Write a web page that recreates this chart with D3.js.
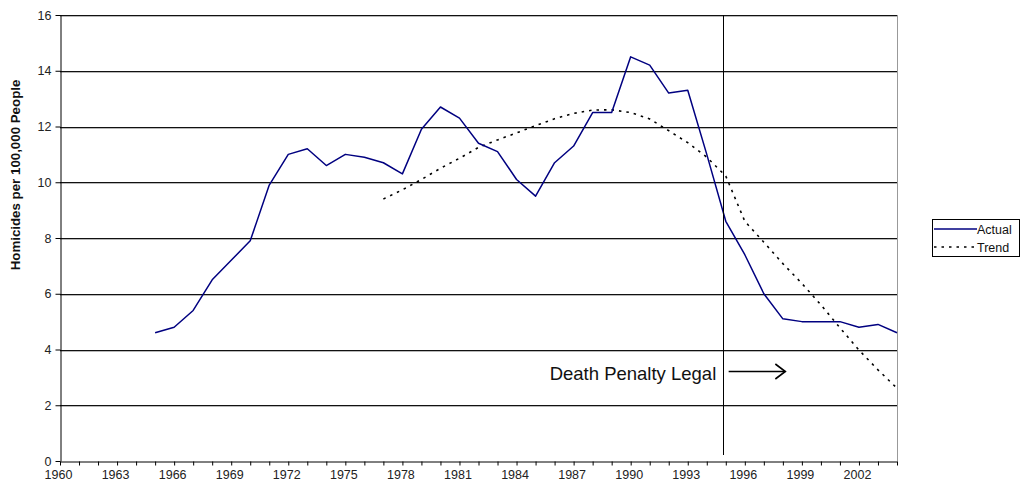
<!DOCTYPE html>
<html>
<head>
<meta charset="utf-8">
<script src="https://cdn.jsdelivr.net/npm/d3@7"></script>
<style>
  body { margin: 0; background: #fff; }
  svg { display: block; font-family: "Liberation Sans", Arial, sans-serif; }
</style>
</head>
<body>
<svg width="1029" height="485"></svg>
<script>
// Homicide rate per 100,000 people, by year
const actualYears = [1965, 1966, 1967, 1968, 1969, 1970, 1971, 1972, 1973, 1974,
  1975, 1976, 1977, 1978, 1979, 1980, 1981, 1982, 1983, 1984,
  1985, 1986, 1987, 1988, 1989, 1990, 1991, 1992, 1993, 1994,
  1995, 1996, 1997, 1998, 1999, 2000, 2001, 2002, 2003, 2004];
const actualValues = [4.6, 4.8, 5.4, 6.5, 7.2, 7.9, 9.9, 11.0, 11.2, 10.6,
  11.0, 10.9, 10.7, 10.3, 11.9, 12.7, 12.3, 11.4, 11.1, 10.1,
  9.5, 10.7, 11.3, 12.5, 12.5, 14.5, 14.2, 13.2, 13.3, 11.0,
  8.6, 7.4, 6.0, 5.1, 5.0, 5.0, 5.0, 4.8, 4.9, 4.6];

const trendYears = [1977, 1978, 1979, 1980, 1981, 1982, 1983, 1984, 1985, 1986,
  1987, 1988, 1989, 1990, 1991, 1992, 1993, 1994, 1995, 1996,
  1997, 1998, 1999, 2000, 2001, 2002, 2003, 2004];
const trendValues = [9.4, 9.73, 10.1, 10.5, 10.86, 11.25, 11.52, 11.77, 12.03, 12.28,
  12.47, 12.59, 12.6, 12.5, 12.27, 11.85, 11.42, 10.9, 10.22, 8.6,
  7.85, 7.08, 6.37, 5.6, 4.78, 3.98, 3.27, 2.61];

const yTicks = [0, 2, 4, 6, 8, 10, 12, 14, 16];
const xLabelYears = [1960, 1963, 1966, 1969, 1972, 1975, 1978, 1981, 1984,
  1987, 1990, 1993, 1996, 1999, 2002];

const deathPenaltyYear = 1994.87;
const annotationText = "Death Penalty Legal";
const yTitle = "Homicides per 100,000 People";
const seriesNames = ["Actual", "Trend"];

const svg = d3.select("svg");
const plotL = 60, plotR = 897, plotT = 15, plotB = 461;

const x = d3.scaleLinear().domain([1960, 2004]).range([plotL, plotR]);
const y = d3.scaleLinear().domain([0, 16]).range([plotB, plotT]);

// gridlines (dark line with a soft grey underneath)
const grid = svg.append("g");
yTicks.filter(v => v > 0).forEach(v => {
  const yy = Math.round(y(v)) + 0.5;
  grid.append("line")
    .attr("x1", plotL).attr("x2", plotR)
    .attr("y1", yy + 1).attr("y2", yy + 1)
    .attr("stroke", "#b8b8b8");
  grid.append("line")
    .attr("x1", plotL).attr("x2", plotR)
    .attr("y1", yy).attr("y2", yy)
    .attr("stroke", "#111");
});

// right frame edge
svg.append("line")
  .attr("x1", plotR + 0.5).attr("x2", plotR + 0.5)
  .attr("y1", plotT).attr("y2", plotB)
  .attr("stroke", "#999");

// y axis
const yAxis = svg.append("g")
  .attr("transform", `translate(${plotL + 0.5},0)`)
  .call(d3.axisLeft(y).tickValues(yTicks).tickSize(5).tickSizeOuter(0));
yAxis.select(".domain").attr("stroke", "#000");
yAxis.selectAll(".tick line").attr("stroke", "#000");
yAxis.selectAll("text")
  .attr("font-size", "12.5px")
  .attr("fill", "#222")
  .attr("font-family", "Liberation Sans, Arial, sans-serif")
  .attr("x", -9);

// x axis: a tick every year, label every third
const xAxis = svg.append("g")
  .attr("transform", `translate(0,${plotB + 0.5})`)
  .call(d3.axisBottom(x)
    .tickValues(d3.range(1960, 2005))
    .tickSize(4)
    .tickSizeOuter(0)
    .tickFormat(d => xLabelYears.includes(d) ? String(d) : ""));
xAxis.select(".domain").attr("stroke", "#000");
xAxis.selectAll(".tick line").attr("stroke", "#000");
xAxis.selectAll("text")
  .attr("font-size", "12.5px")
  .attr("fill", "#222")
  .attr("font-family", "Liberation Sans, Arial, sans-serif")
  .attr("dx", "-2px")
  .attr("y", 9);

// y title
svg.append("text")
  .attr("transform", "translate(19.5,175) rotate(-90)")
  .attr("text-anchor", "middle")
  .attr("font-size", "13.3px")
  .attr("font-weight", "bold")
  .attr("fill", "#111")
  .text(yTitle);

const line = d3.line().x(d => x(d[0])).y(d => y(d[1]));

// trend
svg.append("path")
  .datum(d3.zip(trendYears, trendValues))
  .attr("d", line)
  .attr("fill", "none")
  .attr("stroke", "#000")
  .attr("stroke-width", 1.6)
  .attr("stroke-dasharray", "2.5,5");

// actual
svg.append("path")
  .datum(d3.zip(actualYears, actualValues))
  .attr("d", line)
  .attr("fill", "none")
  .attr("stroke", "#000080")
  .attr("stroke-width", 1.5)
  .attr("stroke-linejoin", "round");

// death penalty marker
const xd = Math.round(x(deathPenaltyYear)) + 0.5;
svg.append("line")
  .attr("x1", xd).attr("x2", xd)
  .attr("y1", plotT).attr("y2", 455)
  .attr("stroke", "#000")
  .attr("stroke-width", 1);

svg.append("text")
  .attr("x", x(1994.5))
  .attr("y", y(2.9))
  .attr("text-anchor", "end")
  .attr("font-size", "18.5px")
  .attr("fill", "#111")
  .text(annotationText);

const ay = Math.round(y(3.23)) + 0.5;
const ax1 = x(1995.15), ax2 = x(1998.13);
svg.append("line")
  .attr("x1", ax1).attr("x2", ax2)
  .attr("y1", ay).attr("y2", ay)
  .attr("stroke", "#000").attr("stroke-width", 1.6);
svg.append("path")
  .attr("d", `M${ax2 - 10},${ay - 7.5}L${ax2},${ay}L${ax2 - 10},${ay + 7.5}`)
  .attr("fill", "none")
  .attr("stroke", "#000").attr("stroke-width", 1.6);

// legend
const lg = svg.append("g").attr("transform", "translate(932,219)");
lg.append("rect")
  .attr("x", 0.5).attr("y", 0.5)
  .attr("width", 87).attr("height", 37)
  .attr("fill", "#fff")
  .attr("stroke", "#000");
seriesNames.forEach((name, i) => {
  const yy = 10 + i * 18;
  lg.append("line")
    .attr("x1", 2).attr("x2", 45)
    .attr("y1", yy).attr("y2", yy)
    .attr("stroke", i === 0 ? "#000080" : "#000")
    .attr("stroke-width", 1.5)
    .attr("stroke-dasharray", i === 0 ? null : "2.5,5");
  lg.append("text")
    .attr("x", 45).attr("y", yy + 4.5)
    .attr("font-size", "12.5px")
    .attr("fill", "#111")
    .text(name);
});
</script>
</body>
</html>
